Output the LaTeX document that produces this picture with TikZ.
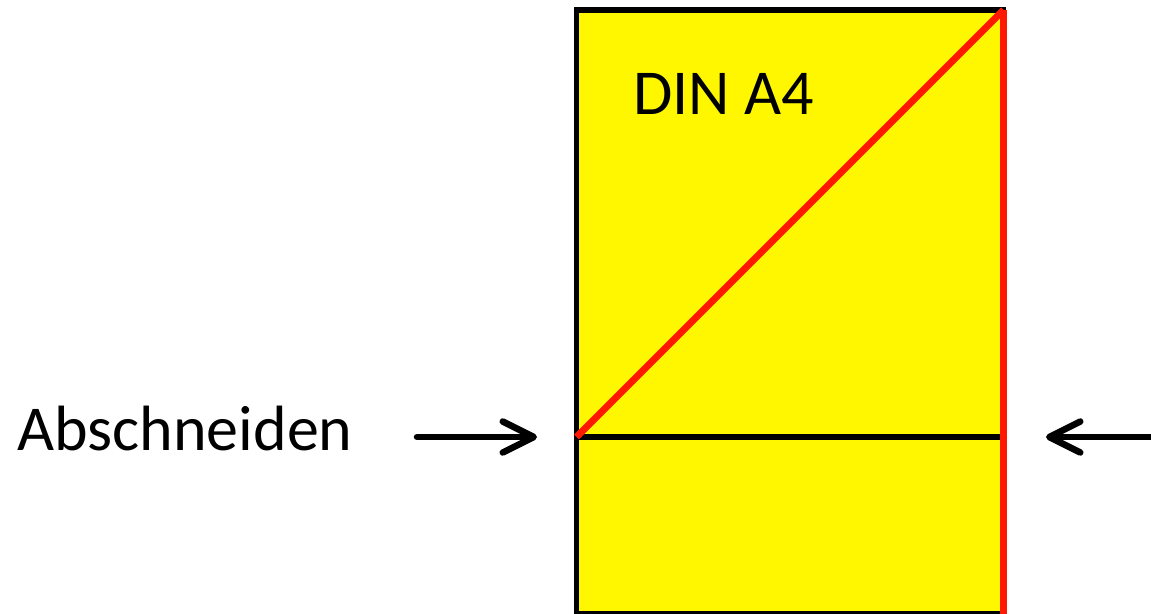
\documentclass[tikz,border=0pt]{standalone}
\usepackage{fontspec}
\setmainfont{Carlito}
\usetikzlibrary{arrows.meta}
\definecolor{sheetyellow}{RGB}{255,247,0}
\definecolor{cutred}{RGB}{255,25,0}
\tikzset{
  edgeblack/.style={draw=black,line width=5.5pt},
  edgered/.style={draw=cutred,line width=7pt},
  cutarrow/.style={draw=black,line width=6.5pt,line cap=round,-{Straight Barb[round,length=31pt,width=31pt]}},
  bigtext/.style={font=\fontsize{64}{74}\selectfont,inner sep=0pt,anchor=base west}
}
\begin{document}
\begin{tikzpicture}[x=1pt,y=-1pt]
\useasboundingbox (0,0) rectangle (1151,613);
\coordinate (tl) at (576.5,10);
\coordinate (tr) at (1003.5,10);
\coordinate (bl) at (576.5,614);
\coordinate (br) at (1003.5,614);
\coordinate (ml) at (576.5,437);
\coordinate (mr) at (1003.5,437);
\fill[sheetyellow] (tl) rectangle (br);
\draw[edgeblack,line cap=rect] (bl) -- (tl) -- (tr);
\draw[edgeblack] (bl) -- (br);
\draw[edgeblack] (ml) -- (mr);
\draw[edgered] (ml) -- (tr);
\draw[edgered] (tr) -- (br);
\node[bigtext] (din) at (633,114) {DIN A4};
\node[bigtext] (lab) at (17,450) {Abschneiden};
\coordinate (la) at (417,437);
\coordinate (lb) at (537,437);
\coordinate (ra) at (1151,437);
\coordinate (rb) at (1046,437);
\draw[cutarrow] (la) -- (lb);
\draw[cutarrow,line cap=butt] (ra) -- (rb);
\end{tikzpicture}
\end{document}
